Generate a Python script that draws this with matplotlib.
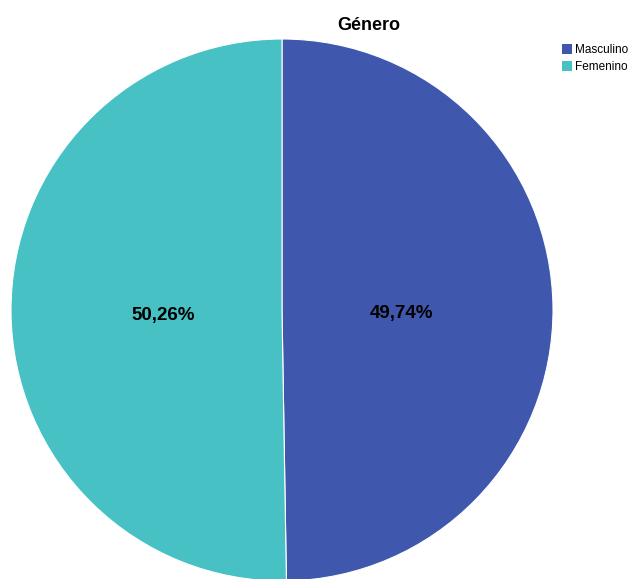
import matplotlib.pyplot as plt
from matplotlib.patches import Patch

plt.rcParams['font.family'] = ['Liberation Sans', 'DejaVu Sans']

categorias = ['Masculino', 'Femenino']
porcentajes = [49.74, 50.26]
colores = ['#3F57AC', '#48C1C4']

fig = plt.figure(figsize=(6.3, 5.79), dpi=100)
ax = fig.add_axes([11 / 630, -2 / 579, 542 / 630, 542 / 579])

wedges, texts, autotexts = ax.pie(
    porcentajes, colors=colores, startangle=90, counterclock=False,
    autopct=lambda p: f'{p:.2f}%'.replace('.', ','), pctdistance=0.44,
    wedgeprops=dict(edgecolor='white', linewidth=0.8), radius=1.0)
for t in autotexts:
    t.set_fontsize(13.5)
    t.set_fontweight('bold')
    t.set_color('black')
    x, y = t.get_position()
    t.set_position((x, y - 0.015))
ax.set_xlim(-1, 1)
ax.set_ylim(-1, 1)

fig.text(369 / 630, 1 - 25 / 579, 'Género', ha='center', va='center',
         fontsize=13, fontweight='bold')

handles = [Patch(facecolor=c, edgecolor='none') for c in colores]
fig.legend(handles, categorias, loc='upper left',
           bbox_to_anchor=(556 / 630, 1 - 38 / 579), frameon=False,
           fontsize=8.5, handlelength=0.85, handleheight=0.85,
           handletextpad=0.3, labelspacing=0.45, borderpad=0)

plt.savefig('out.png', dpi=100)
